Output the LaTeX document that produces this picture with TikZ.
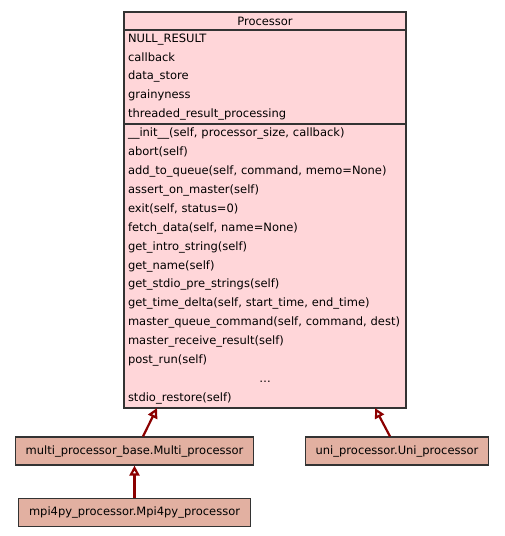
\documentclass[tikz,border=0pt]{standalone}
\usepackage{fontspec}
\setmainfont{DejaVu Sans}
\usetikzlibrary{
  arrows.meta,
  calc,
  positioning,
}
\definecolor{procfill}{RGB}{255, 214, 217}
\definecolor{subfill}{RGB}{226, 176, 161}
\definecolor{edgered}{RGB}{139, 0, 0}
\definecolor{boxline}{RGB}{51, 51, 51}
\tikzstyle{procpart} = [
  draw=boxline,
  fill=procfill,
  rectangle,
  line width=1.2pt,
  outer sep=0pt,
  minimum width=282,
  text width=274,
  inner xsep=4,
  inner ysep=0,
  font=\fontsize{11.5}{18.9}\selectfont,
]
\tikzstyle{subclass} = [
  draw=boxline,
  fill=subfill,
  rectangle,
  line width=1.2pt,
  minimum height=28,
  inner xsep=10.5,
  font=\fontsize{11.5}{12}\selectfont,
]
\tikzstyle{inherit} = [
  -{Triangle[open,fill=white,length=10pt,width=10pt]},
  line width=2.2pt,
  edgered,
]

\begin{document}
\begin{tikzpicture}[x=1pt,y=-1pt]

        \useasboundingbox (0,0) rectangle (505,536);

        \node[procpart,minimum height=18,align=center] (proc) at (265,21) {Processor};
        \node[procpart,minimum height=94,align=left] (attrs) [below=0pt of proc] {NULL\_RESULT\\callback\\data\_store\\grainyness\\threaded\_result\_processing};
        \node[procpart,minimum height=284,align=left] (meths) [below=0pt of attrs] {\_\_init\_\_(self, processor\_size, callback)\\abort(self)\\add\_to\_queue(self, command, memo=None)\\assert\_on\_master(self)\\exit(self, status=0)\\fetch\_data(self, name=None)\\get\_intro\_string(self)\\get\_name(self)\\get\_stdio\_pre\_strings(self)\\get\_time\_delta(self, start\_time, end\_time)\\master\_queue\_command(self, command, dest)\\master\_receive\_result(self)\\post\_run(self)\\\makebox[\linewidth]{\dots}\\stdio\_restore(self)};

        \node[subclass] (multi) at (134.5,451) {multi\_processor\_base.Multi\_processor};
        \node[subclass] (uni) at (397,451) {uni\_processor.Uni\_processor};
        \node[subclass] (mpi) [below=32pt of multi] {mpi4py\_processor.Mpi4py\_processor};

        \coordinate (multitop) at ($(multi.north)+(8.5,0)$);
        \coordinate (multihead) at ($(meths.south west)+(33,0)$);
        \coordinate (unitop) at ($(uni.north)+(-7,0)$);
        \coordinate (unihead) at ($(meths.south west)+(251,0)$);

        \draw[inherit] (multitop) -- (multihead);
        \draw[inherit] (unitop) -- (unihead);
        \draw[inherit] (mpi.north) -- (multi.south);

        \end{tikzpicture}
\end{document}
